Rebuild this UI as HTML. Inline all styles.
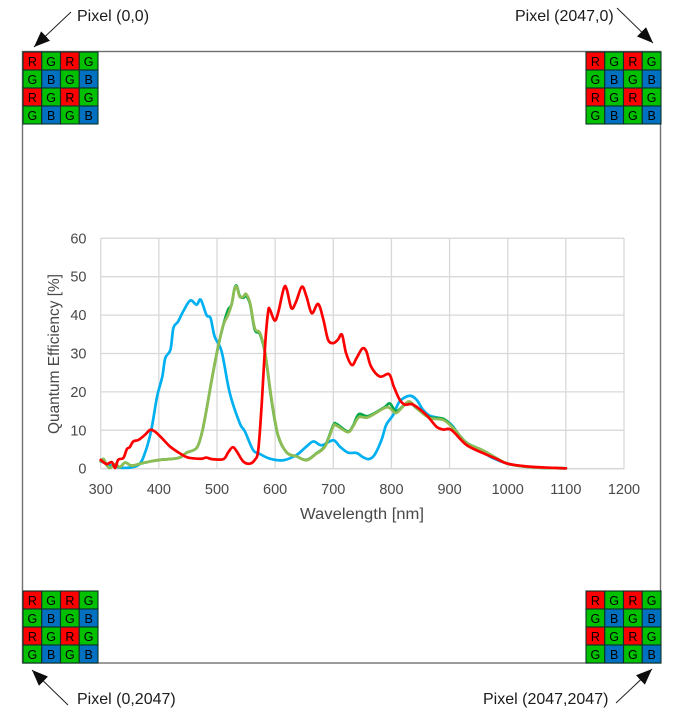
<!DOCTYPE html>
<html lang="en">
<head>
<meta charset="utf-8">
<title>Quantum efficiency with Bayer pixel layout</title>
<style>
html,body{margin:0;padding:0;background:#fff;width:685px;height:714px;overflow:hidden}
svg{display:block;font-family:"Liberation Sans",sans-serif}
</style>
</head>
<body>
<svg id="figure" width="685" height="714" viewBox="0 0 685 714" xmlns="http://www.w3.org/2000/svg">
  <defs>
    <marker id="arrow-head" markerWidth="17" markerHeight="14" refX="16" refY="6.5" orient="auto" markerUnits="userSpaceOnUse">
      <path d="M0 0 L16 6.5 L0 13 Z" fill="#111"/>
    </marker>
    <filter id="soft" x="-5%" y="-5%" width="110%" height="110%"><feGaussianBlur stdDeviation="0.3"/></filter>
  </defs>
  <g filter="url(#soft)">
    <rect x="22.5" y="51.5" width="638" height="611.5" fill="#fff" stroke="#707070" stroke-width="1.4"/>
    <g id="tiles"></g>
    <g fill="#1a1a1a" font-size="16">
      <text x="77" y="21">Pixel (0,0)</text>
      <text x="515" y="21">Pixel (2047,0)</text>
      <text x="77" y="704">Pixel (0,2047)</text>
      <text x="483" y="704">Pixel (2047,2047)</text>
    </g>
    <g stroke="#222" stroke-width="1" fill="none">
      <line x1="71" y1="12" x2="34" y2="47" marker-end="url(#arrow-head)"/>
      <line x1="617" y1="8" x2="653" y2="43" marker-end="url(#arrow-head)"/>
      <line x1="68" y1="705" x2="32" y2="670" marker-end="url(#arrow-head)"/>
      <line x1="616" y1="703" x2="652" y2="669" marker-end="url(#arrow-head)"/>
    </g>
    <g id="chart"></g>
  </g>
</svg>
<script>
const xTicks = [300,400,500,600,700,800,900,1000,1100,1200];
const yTicks = [0,10,20,30,40,50,60];

const blueWl = [300,316,339,365,377,387,397,406,411,420,425,433,442,454,465,472,482,489,496,508,522,539,548,562,573,591,614,637,654,666,680,700,711,725,740,751,761,771,783,791,803,814,831,843,854,866,889,906,923,946,974,1000,1032,1066,1100];
const blueQe = [1.9,1.0,0.2,1.0,4.5,10.1,18.8,24,28.8,31,36.6,38.3,41,43.8,42.7,44,40,39.2,34.4,30.5,19.7,11.9,9.7,4.9,3.9,2.6,2.2,3.6,5.8,7.1,6.1,7.4,5.8,4.2,4.1,3,2.5,3.6,7.5,11.4,14,17.5,19,18,15.4,13.8,12.9,11,7.1,5.4,2.8,1.3,0.5,0.2,0.1];

const redWl = [300,310,319,325,330,339,345,350,356,365,376,385,393,405,419,434,448,459,474,482,491,511,519,527,534,545,556,565,571,577,583,588,591,599,605,615,620,628,636,646,654,663,674,683,691,700,708,715,722,732,740,750,757,765,780,796,804,814,823,837,860,877,889,903,929,957,980,1000,1032,1066,1100];
const redQe = [2.3,1.2,1.7,0.2,2.3,2.8,5.1,5.6,7.1,7.5,8.8,10.1,9.7,8,5.8,4.2,3,2.7,2.6,2.9,2.5,2.5,4.2,5.6,4.5,1.9,1.3,2.3,4.9,17,32.7,40.9,41.4,38.6,40.5,47,46.7,41.8,43.5,47.4,44.8,40.5,42.9,38.8,33.6,32.7,33.6,34.9,30.1,27,28.8,31.3,30.5,26.6,24,24.6,21.4,18,16.7,16.7,14,11,10.2,10.1,6.2,4.1,2.6,1.3,0.6,0.3,0.1];

const greenWl = [300,305,310,316,325,333,342,353,368,385,402,434,448,465,474,482,491,502,511,519,525,530,534,539,545,550,557,565,574,583,594,605,620,637,654,671,686,700,706,725,734,744,760,788,797,808,820,831,846,866,889,906,929,957,980,1000,1032,1066,1100];
const greenOneQe = [1.9,2.5,1,0.2,1.2,0.4,1.6,0.8,1.3,1.9,2.3,2.8,4.2,5.4,9.3,15.4,23.2,31.8,37.5,41.4,42.7,46.8,47.6,45,44.5,45,42.8,36.2,35,29.8,17.6,8.6,4.2,3.2,2.3,4,6,11.3,11.6,9.7,11.2,14.2,13.7,16,17,15,16.3,17.3,15.4,13.4,13,10.7,6.8,4.8,2.8,1.3,0.5,0.2,0.1];
const greenTwoQe = [1.9,2.5,1,0.2,1.2,0.4,1.6,0.8,1.3,1.9,2.3,2.8,4.2,5.4,9.3,15.4,23.2,31.8,37.5,40,42.7,46.6,47.4,44.8,44.8,45.5,43.1,36.6,35.3,30.1,18,8.8,4.2,3.2,2.2,3.9,5.8,11,11.2,9.5,11,13.4,13.4,15.8,15.8,14.5,16.2,17.5,15.4,13.2,12.7,10.6,6.7,4.8,2.8,1.3,0.5,0.2,0.1];

const bayerRows = [["R","G","R","G"],["G","B","G","B"],["R","G","R","G"],["G","B","G","B"]];
const tileCorners = [["top-left",23,52],["top-right",586,52],["bottom-left",23,591],["bottom-right",586,591]];

const NS = "http://www.w3.org/2000/svg";
const X0 = 100.7, X1 = 624, Y0 = 468.7, Y1 = 238.3;
const xScale = v => X0 + (v - 300) / 900 * (X1 - X0);
const yScale = v => Y0 - v / 60 * (Y0 - Y1);

function make(tag, attrs, parent, text) {
  const el = document.createElementNS(NS, tag);
  for (const k in attrs) el.setAttribute(k, attrs[k]);
  if (text !== undefined) el.textContent = text;
  parent.appendChild(el);
  return el;
}

function smoothPath(xs, ys) {
  const p = xs.map((x, i) => [xScale(x), yScale(ys[i])]);
  let d = "M" + p[0][0].toFixed(2) + " " + p[0][1].toFixed(2);
  for (let i = 0; i < p.length - 1; i++) {
    const a = p[Math.max(i - 1, 0)], b = p[i], c = p[i + 1], e = p[Math.min(i + 2, p.length - 1)];
    const c1x = b[0] + (c[0] - a[0]) / 6, c1y = b[1] + (c[1] - a[1]) / 6;
    const c2x = c[0] - (e[0] - b[0]) / 6, c2y = c[1] - (e[1] - b[1]) / 6;
    d += "C" + [c1x, c1y, c2x, c2y, c[0], c[1]].map(n => n.toFixed(2)).join(" ");
  }
  return d;
}

const tilesGroup = document.getElementById("tiles");
const cellColors = {R:"#ff0000", G:"#00c000", B:"#0070c0"};
const cellW = 18.75, cellH = 18;
tileCorners.forEach(corner => {
  const group = make("g", {}, tilesGroup);
  
  
  bayerRows.forEach((row, r) => row.forEach((ch, c) => {
    const x = corner[1] + c * cellW, y = corner[2] + r * cellH;
    const rect = make("rect", {x: x, y: y, width: cellW, height: cellH, fill: cellColors[ch], stroke: "#10302a", "stroke-width": 1.1}, group);
    
    
    const label = make("text", {x: x + cellW / 2, y: y + 13.8, "text-anchor": "middle", "font-size": 12.5, fill: "#000"}, group, ch);
    
    
  }));
});

const chart = document.getElementById("chart");
const gridColor = "#d9d9d9", axisText = "#484848";

yTicks.forEach(v => {
  const line = make("line", {x1: X0, x2: X1, y1: yScale(v), y2: yScale(v), stroke: gridColor, "stroke-width": v === 0 ? 1.6 : 1.3}, chart);
  
  
  const label = make("text", {x: 86.5, y: yScale(v) + 5, "text-anchor": "end", "font-size": 14.5, fill: axisText}, chart, String(v));
  
  
});
xTicks.forEach(v => {
  const line = make("line", {x1: xScale(v), x2: xScale(v), y1: Y1, y2: Y0, stroke: gridColor, "stroke-width": 1.3}, chart);
  
  
  const label = make("text", {x: xScale(v), y: 494, "text-anchor": "middle", "font-size": 14.5, fill: axisText}, chart, String(v));
  
  
});

const xTitle = make("text", {x: 362, y: 519, "text-anchor": "middle", "font-size": 15.5, fill: axisText, textLength: 124, lengthAdjust: "spacingAndGlyphs"}, chart, "Wavelength [nm]");


const yTitle = make("text", {x: 0, y: 0, transform: "translate(59 354) rotate(-90)", "text-anchor": "middle", "font-size": 15.5, fill: axisText, textLength: 160, lengthAdjust: "spacingAndGlyphs"}, chart, "Quantum Efficiency [%]");



const seriesNames = ["series-blue","series-green-1","series-green-2","series-red"];
const seriesX = [blueWl, greenWl, greenWl, redWl];
const seriesY = [blueQe, greenOneQe, greenTwoQe, redQe];
const seriesColors = ["#00b0f0","#00a848","#8fbc54","#ff0000"];
seriesNames.forEach((name, i) => {
  const path = make("path", {d: smoothPath(seriesX[i], seriesY[i]), fill: "none", stroke: seriesColors[i], "stroke-width": 2.7, "stroke-linejoin": "round", "stroke-linecap": "round"}, chart);
  
  
});
</script>
</body>
</html>
